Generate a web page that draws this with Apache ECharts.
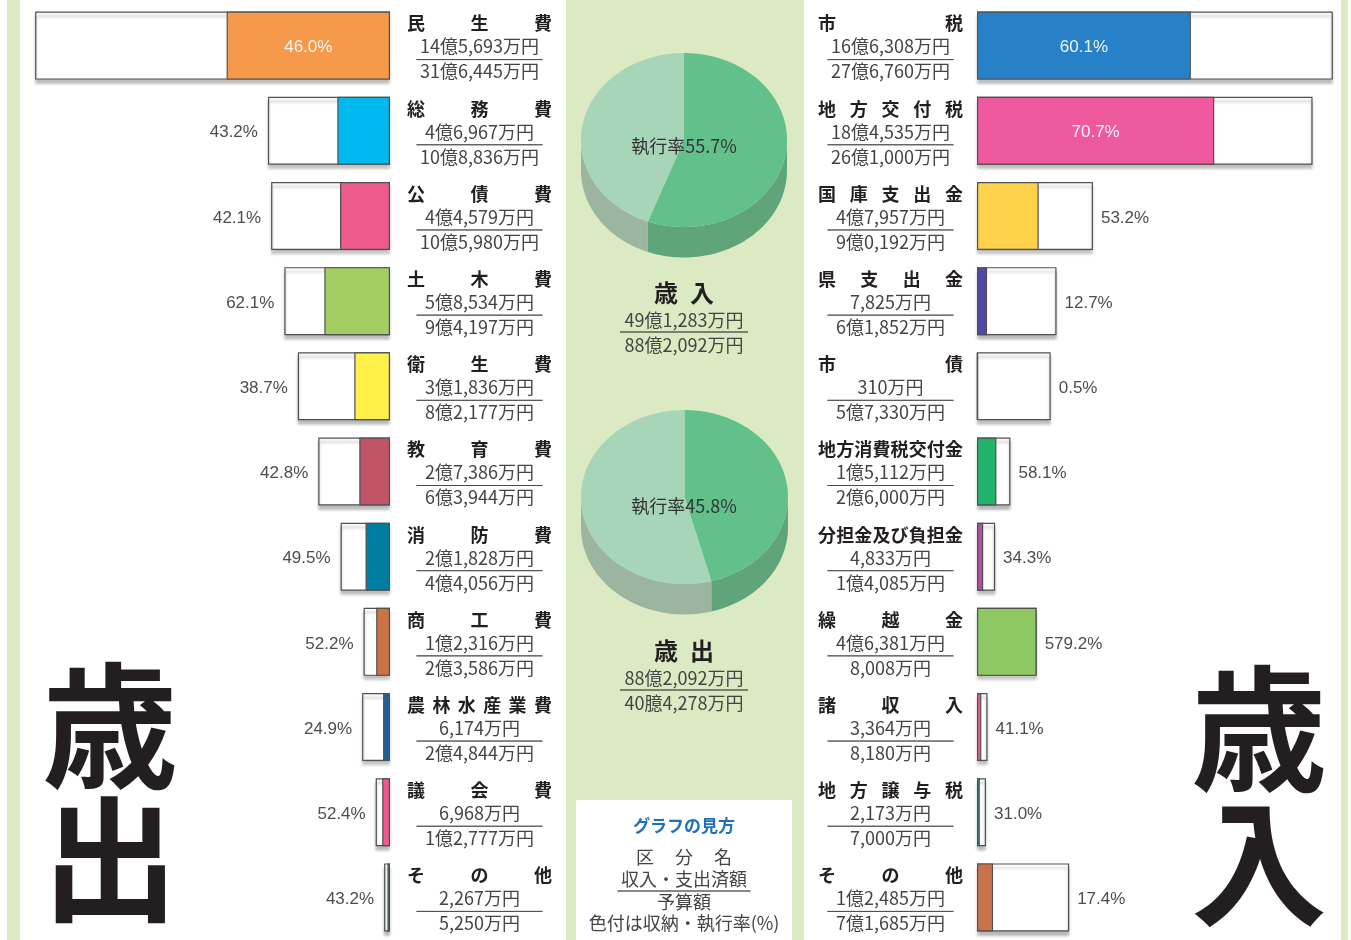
<!DOCTYPE html>
<html>
<head>
<meta charset="utf-8">
<title>歳入・歳出 執行状況</title>
<script src="https://cdn.jsdelivr.net/npm/echarts@6/dist/echarts.min.js"></script>
<style>
  html, body { margin: 0; padding: 0; background: #fff; }
  #chart { width: 1351px; height: 940px; }
</style>
</head>
<body>
<div id="chart"></div>
<script>
// 歳出 (left side), amounts in 万円
var expNames = ['民生費', '総務費', '公債費', '土木費', '衛生費', '教育費', '消防費', '商工費', '農林水産業費', '議会費', 'その他'];
var expDone = [145693, 46967, 44579, 58534, 31836, 27386, 21828, 12316, 6174, 6968, 2267];
var expBudget = [316445, 108836, 105980, 94197, 82177, 63944, 44056, 23586, 24844, 12777, 5250];
var expRates = [46.0, 43.2, 42.1, 62.1, 38.7, 42.8, 49.5, 52.2, 24.9, 52.4, 43.2];
var expColors = ['#f5994a', '#00b9ef', '#ee5a8c', '#a3cf62', '#fff04a', '#c25468', '#007ea2', '#c87443', '#1f5fa0', '#ee5a8c', '#2ba4c4'];

// 歳入 (right side), amounts in 万円
var revNames = ['市税', '地方交付税', '国庫支出金', '県支出金', '市債', '地方消費税交付金', '分担金及び負担金', '繰越金', '諸収入', '地方譲与税', 'その他'];
var revDone = [166308, 184535, 47957, 7825, 310, 15112, 4833, 46381, 3364, 2173, 12485];
var revBudget = [276760, 261000, 90192, 61852, 57330, 26000, 14085, 8008, 8180, 7000, 71685];
var revRates = [60.1, 70.7, 53.2, 12.7, 0.5, 58.1, 34.3, 579.2, 41.1, 31.0, 17.4];
var revColors = ['#2681c8', '#ef5a9f', '#fdd24a', '#4f4aa5', '#6a5acd', '#22b36a', '#b04fa3', '#8ec863', '#ef5a87', '#16a2a0', '#c8734a'];

// totals (pies)
var revTotal = [491283, 882092];
var expTotal = [404278, 882092];
var revTotalText = ['49億1,283万円', '88億2,092万円'];
var expTotalText = ['88億2,092万円', '40臆4,278万円'];

var CJK = '"Noto Sans CJK JP", "Noto Sans", sans-serif';
var LAT = '"Liberation Sans", Arial, sans-serif';
var GREEN = '#dbeac3';
var NAME_W = 145;
var NAME_FS = 18;

function yen(man) {
  var oku = Math.floor(man / 10000), rest = man % 10000;
  if (oku > 0) {
    return oku + '億' + Math.floor(rest / 1000) + ',' + String(rest % 1000).padStart(3, '0') + '万円';
  }
  var r = rest >= 1000 ? Math.floor(rest / 1000) + ',' + String(rest % 1000).padStart(3, '0') : String(rest);
  return r + '万円';
}

function nameLine(name, gapKey) {
  var out = '';
  name.split('').forEach(function (c, j) {
    if (j > 0) out += '{' + gapKey + '|}';
    out += '{n|' + c + '}';
  });
  return out;
}

function labelFormatter(names, done, budget, prefix) {
  return function (value, i) {
    return nameLine(names[i], prefix + i) + '\n{a|' + yen(done[i]) + '}\n{hr|}\n{b|' + yen(budget[i]) + '}';
  };
}

function richFor(names, prefix) {
  var rich = {
    n: { fontSize: NAME_FS, fontWeight: 'bold', color: '#231f20', fontFamily: CJK, lineHeight: 22, align: 'left' },
    a: { fontSize: 18, fontWeight: 'normal', color: '#444', fontFamily: CJK, lineHeight: 24, align: 'center' },
    b: { fontSize: 18, fontWeight: 'normal', color: '#444', fontFamily: CJK, lineHeight: 22, align: 'center' },
    hr: { width: 126, height: 0, borderColor: '#444', borderWidth: 0.8, lineHeight: 2, align: 'center' }
  };
  names.forEach(function (nm, i) {
    var n = nm.length;
    var gap = n > 1 ? Math.max(0, (NAME_W - n * NAME_FS) / (n - 1)) : 0;
    rich[prefix + i] = { width: gap, height: 1, lineHeight: 22, align: 'left' };
  });
  return rich;
}

function outlineData(done, budget) {
  return budget.map(function (b, i) {
    return { value: Math.max(b, done[i]) / 10000, label: { show: done[i] < 100000 } };
  });
}

function fillData(done, colors) {
  return done.map(function (d, i) {
    return { value: d / 10000, itemStyle: { color: colors[i] }, label: { show: d >= 100000 } };
  });
}

function pieItems(total) {
  var f = total[0] / total[1];
  return [[0, f, 0], [f, 1, 1]];
}

var pieTop = ['#62c08b', '#a6d5b7'];
var pieSide = ['#5fa47b', '#9bb59f'];

function renderSlice(params, api) {
  var s = api.value(0), e = api.value(1), k = api.value(2);
  var depth = 0.35;
  function pt(f, dy) {
    var t = f * 2 * Math.PI;
    return api.coord([Math.sin(t), Math.cos(t) - (dy || 0)]);
  }
  var children = [];
  var a = Math.max(s, 0.25), b = Math.min(e, 0.75);
  if (b > a) {
    var side = [], n = Math.ceil((b - a) * 200) + 1, i;
    for (i = 0; i <= n; i++) side.push(pt(a + (b - a) * i / n));
    for (i = n; i >= 0; i--) side.push(pt(a + (b - a) * i / n, depth));
    children.push({ type: 'polygon', shape: { points: side }, style: { fill: pieSide[k] } });
  }
  var top = [api.coord([0, 0])], m = Math.ceil((e - s) * 200) + 1;
  for (var j = 0; j <= m; j++) top.push(pt(s + (e - s) * j / m));
  children.push({ type: 'polygon', shape: { points: top }, style: { fill: pieTop[k] } });
  return { type: 'group', children: children };
}

function pctLabel(rates) {
  return function (p) { return rates[p.dataIndex].toFixed(1) + '%'; };
}

var barItem = { color: '#fff', borderColor: '#505050', borderWidth: 1.2, shadowColor: 'rgba(0,0,0,0.28)', shadowBlur: 3, shadowOffsetY: 4 };
var fillItem = { borderColor: '#505050', borderWidth: 1.2 };
var outLabel = { show: true, fontSize: 17, color: '#4d4d4d', fontFamily: LAT, offset: [0, 2] };
var inLabel = { show: true, position: 'inside', fontSize: 17, color: 'rgba(255,255,255,0.92)', fontFamily: LAT, offset: [0, 2] };

var centerRich = {
  h: { fontSize: 24, fontWeight: 'bold', color: '#231f20', fontFamily: CJK, lineHeight: 32, align: 'center' },
  hs: { width: 12, height: 1, lineHeight: 32, align: 'center' },
  a: { fontSize: 18, fontWeight: 'normal', color: '#444', fontFamily: CJK, lineHeight: 22, align: 'center' },
  hr: { width: 128, height: 0, borderColor: '#444', borderWidth: 0.8, lineHeight: 2, align: 'center' },
  b: { fontSize: 18, fontWeight: 'normal', color: '#444', fontFamily: CJK, lineHeight: 24, align: 'center' }
};

var legendRich = {
  g: { fontSize: 17, fontWeight: 'bold', color: '#1f6fbf', fontFamily: CJK, lineHeight: 40, align: 'center' },
  k: { fontSize: 18, fontWeight: 'normal', color: '#444', fontFamily: CJK, lineHeight: 22, align: 'center' },
  ks: { width: 21, height: 1, lineHeight: 22, align: 'center' },
  a: { fontSize: 18, fontWeight: 'normal', color: '#444', fontFamily: CJK, lineHeight: 22, align: 'center' },
  hr: { width: 133, height: 0, borderColor: '#444', borderWidth: 0.8, lineHeight: 2, align: 'center' },
  b: { fontSize: 18, fontWeight: 'normal', color: '#444', fontFamily: CJK, lineHeight: 20, align: 'center' },
  c: { fontSize: 18, fontWeight: 'normal', color: '#444', fontFamily: CJK, lineHeight: 22, align: 'center' }
};

function rateText(total) {
  return '執行率' + (total[0] / total[1] * 100).toFixed(1) + '%';
}

var chart = echarts.init(document.getElementById('chart'));
var option = {
  animation: false,
  backgroundColor: '#fff',
  graphic: [
    { type: 'rect', z: -10, shape: { x: 7, y: 0, width: 13, height: 940 }, style: { fill: GREEN } },
    { type: 'rect', z: -10, shape: { x: 566, y: 0, width: 238, height: 940 }, style: { fill: GREEN } },
    { type: 'rect', z: -10, shape: { x: 1341, y: 0, width: 7, height: 940 }, style: { fill: GREEN } },
    { type: 'rect', z: -9, shape: { x: 576, y: 800, width: 216, height: 140 }, style: { fill: '#fff' } }
  ],
  title: [
    { text: rateText(revTotal), left: 684, top: 134, textAlign: 'center', textVerticalAlign: 'top', padding: 0,
      textStyle: { fontSize: 18, fontWeight: 'normal', color: '#333', lineHeight: 24, fontFamily: CJK } },
    { text: rateText(expTotal), left: 684, top: 494, textAlign: 'center', textVerticalAlign: 'top', padding: 0,
      textStyle: { fontSize: 18, fontWeight: 'normal', color: '#333', lineHeight: 24, fontFamily: CJK } },
    { text: '{h|歳}{hs|}{h|入}\n{a|' + revTotalText[0] + '}\n{hr|}\n{b|' + revTotalText[1] + '}',
      left: 684, top: 277, textAlign: 'center', textVerticalAlign: 'top', padding: 0,
      textStyle: { fontWeight: 'normal', rich: centerRich } },
    { text: '{h|歳}{hs|}{h|出}\n{a|' + expTotalText[0] + '}\n{hr|}\n{b|' + expTotalText[1] + '}',
      left: 684, top: 635, textAlign: 'center', textVerticalAlign: 'top', padding: 0,
      textStyle: { fontWeight: 'normal', rich: centerRich } },
    { text: '{g|グラフの見方}\n{k|区}{ks|}{k|分}{ks|}{k|名}\n{a|収入・支出済額}\n{hr|}\n{b|予算額}\n{c|色付は収納・執行率(%)}',
      left: 684, top: 806, textAlign: 'center', textVerticalAlign: 'top', padding: 0,
      textStyle: { fontWeight: 'normal', rich: legendRich } },
    { text: '歳\n出', left: 110, top: 660, textAlign: 'center', textVerticalAlign: 'top', padding: 0,
      textStyle: { fontSize: 136, fontWeight: 'bold', lineHeight: 133, color: '#231f20', fontFamily: CJK } },
    { text: '歳\n入', left: 1259, top: 662, textAlign: 'center', textVerticalAlign: 'top', padding: 0,
      textStyle: { fontSize: 136, fontWeight: 'bold', lineHeight: 134, color: '#231f20', fontFamily: CJK } }
  ],
  grid: [
    { left: 30, top: 3, width: 360, height: 938 },
    { left: 977, top: 3, width: 360, height: 938 },
    { left: 581, top: 53, width: 206, height: 174 },
    { left: 581, top: 410, width: 207, height: 174 }
  ],
  xAxis: [
    { type: 'value', gridIndex: 0, min: 0, max: 32.1, inverse: true, show: false },
    { type: 'value', gridIndex: 1, min: 0, max: 28.0, show: false },
    { type: 'value', gridIndex: 2, min: -1, max: 1, show: false },
    { type: 'value', gridIndex: 3, min: -1, max: 1, show: false }
  ],
  yAxis: [
    { type: 'category', gridIndex: 0, data: expNames, inverse: true, position: 'right',
      axisLine: { show: false }, axisTick: { show: false }, splitLine: { show: false },
      axisLabel: { interval: 0, margin: 17, align: 'left', padding: [4, 0, 0, 0],
        formatter: labelFormatter(expNames, expDone, expBudget, 'e'), rich: richFor(expNames, 'e') } },
    { type: 'category', gridIndex: 1, data: revNames, inverse: true, position: 'left',
      axisLine: { show: false }, axisTick: { show: false }, splitLine: { show: false },
      axisLabel: { interval: 0, margin: 14, align: 'right', padding: [4, 0, 0, 0],
        formatter: labelFormatter(revNames, revDone, revBudget, 'r'), rich: richFor(revNames, 'r') } },
    { type: 'value', gridIndex: 2, min: -1, max: 1, show: false },
    { type: 'value', gridIndex: 3, min: -1, max: 1, show: false }
  ],
  series: [
    { type: 'bar', xAxisIndex: 0, yAxisIndex: 0, barWidth: 68, barGap: '-100%', silent: true,
      data: outlineData(expDone, expBudget), itemStyle: barItem,
      label: Object.assign({ position: 'left', distance: 10, formatter: pctLabel(expRates) }, outLabel) },
    { type: 'bar', xAxisIndex: 0, yAxisIndex: 0, barWidth: 68, barGap: '-100%', silent: true,
      data: fillData(expDone, expColors), itemStyle: fillItem,
      label: Object.assign({ formatter: pctLabel(expRates) }, inLabel) },
    { type: 'bar', xAxisIndex: 1, yAxisIndex: 1, barWidth: 68, barGap: '-100%', silent: true,
      data: outlineData(revDone, revBudget), itemStyle: barItem,
      label: Object.assign({ position: 'right', distance: 8, formatter: pctLabel(revRates) }, outLabel) },
    { type: 'bar', xAxisIndex: 1, yAxisIndex: 1, barWidth: 68, barGap: '-100%', silent: true,
      data: fillData(revDone, revColors), itemStyle: fillItem,
      label: Object.assign({ formatter: pctLabel(revRates) }, inLabel) },
    { type: 'custom', coordinateSystem: 'cartesian2d', xAxisIndex: 2, yAxisIndex: 2, silent: true,
      data: pieItems(revTotal), renderItem: renderSlice },
    { type: 'custom', coordinateSystem: 'cartesian2d', xAxisIndex: 3, yAxisIndex: 3, silent: true,
      data: pieItems(expTotal), renderItem: renderSlice }
  ]
};
chart.setOption(option);
</script>
</body>
</html>
